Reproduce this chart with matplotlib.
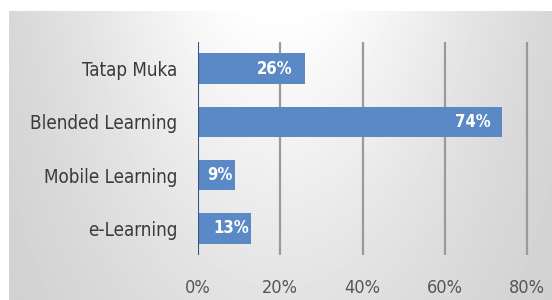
import numpy as np
import matplotlib.pyplot as plt
from matplotlib import font_manager
from matplotlib.transforms import offset_copy

categories = ['Tatap Muka', 'Blended Learning', 'Mobile Learning', 'e-Learning']
values = [26, 74, 9, 13]
ticks = [0, 20, 40, 60, 80]

# look for a condensed face, otherwise the normal one
cond = [f for f in font_manager.fontManager.ttflist
        if 'condensed' in str(f.stretch).lower() or 'Narrow' in f.name
        or 'Condensed' in f.fname]
fam = cond[0].name if cond else 'DejaVu Sans'
stretch = 'condensed' if cond else 'normal'

W, H = 552, 300
fig = plt.figure(figsize=(W / 100, H / 100), dpi=100)

# background panel with soft gradient
bg = fig.add_axes([9 / W, 0, 1 - 9 / W, 1 - 11 / H])
xx = np.linspace(-1, 1, 300)
yy = np.linspace(0, 1, 200)
X, Y = np.meshgrid(xx, yy)
shade = 0.80 + 0.20 * np.exp(-(X * 1.2) ** 2) * (0.45 + 0.55 * Y)
bg.imshow(shade, cmap='gray', vmin=0, vmax=1, aspect='auto', origin='lower',
          extent=[0, 1, 0, 1])
bg.axis('off')

x0, x80, x1 = 198, 527, 540
ax = fig.add_axes([x0 / W, 1 - 255 / H, (x1 - x0) / W, (255 - 42) / H])
ax.patch.set_alpha(0)
y = np.arange(len(categories))
ax.barh(y, values, height=0.57, color='#5b89c6', zorder=3)
ax.set_ylim(len(categories) - 0.5, -0.5)
ax.set_xlim(0, 80 * (x1 - x0) / (x80 - x0))

for xv in ticks[1:]:
    ax.axvline(xv, color='#9a9a9a', lw=1.6, zorder=1)
ax.axvline(0, color='#3b4f8a', lw=1.5, zorder=4)

for yi, v in zip(y, values):
    shift = -12 if v > 20 else -2
    tr = offset_copy(ax.transData, fig=fig, x=shift, y=0, units='dots')
    ax.text(v, yi, f'{v}%', ha='right', va='center', color='white',
            fontsize=12, fontweight='bold', family=fam, stretch=stretch,
            transform=tr, zorder=5)

ax.set_yticks(y)
ax.set_yticklabels(categories, family=fam, stretch=stretch, fontsize=13.5,
                   color='#3a3a3a')
ax.set_xticks(ticks)
ax.set_xticklabels([f'{t}%' for t in ticks], family=fam, stretch=stretch,
                   fontsize=13, color='#555555')
ax.tick_params(axis='y', length=0, pad=15)
ax.tick_params(axis='x', length=0, pad=17)
for s in ax.spines.values():
    s.set_visible(False)

fig.savefig('out.png', dpi=100)
